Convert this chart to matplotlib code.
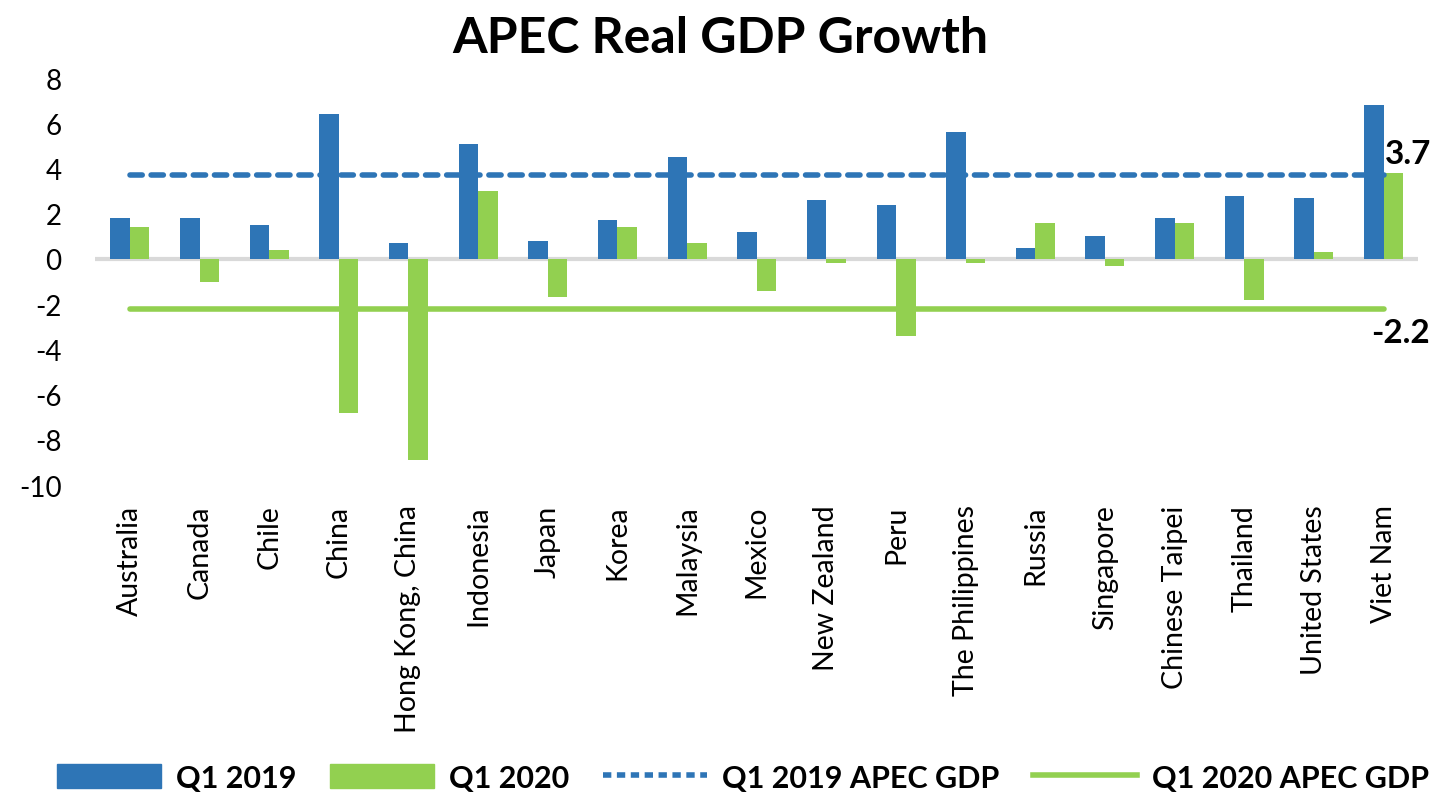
import matplotlib
matplotlib.use("Agg")
import matplotlib.pyplot as plt
import numpy as np
from matplotlib.patches import Patch
from matplotlib.lines import Line2D

categories = ["Australia", "Canada", "Chile", "China", "Hong Kong, China", "Indonesia",
              "Japan", "Korea", "Malaysia", "Mexico", "New Zealand", "Peru",
              "The Philippines", "Russia", "Singapore", "Chinese Taipei", "Thailand",
              "United States", "Viet Nam"]
q1_2019 = [1.8, 1.8, 1.5, 6.4, 0.7, 5.1, 0.8, 1.7, 4.5, 1.2, 2.6, 2.4, 5.6, 0.5, 1.0, 1.8, 2.8, 2.7, 6.8]
q1_2020 = [1.4, -1.0, 0.4, -6.8, -8.9, 3.0, -1.7, 1.4, 0.7, -1.4, -0.2, -3.4, -0.2, 1.6, -0.3, 1.6, -1.8, 0.3, 3.8]
apec_2019 = 3.7
apec_2020 = -2.2
yticks = [8, 6, 4, 2, 0, -2, -4, -6, -8, -10]

BLUE = "#2E75B6"
GREEN = "#92D050"

plt.rcParams['font.family'] = ['Lato', 'DejaVu Sans']

fig = plt.figure(figsize=(14.4, 8.04), dpi=100)
ax = fig.add_axes([0.066, 0.3955, 0.919, 0.5062])

x = np.arange(len(categories))
w = 0.28
ax.bar(x - w / 2, q1_2019, width=w, color=BLUE, zorder=3)
ax.bar(x + w / 2, q1_2020, width=w, color=GREEN, zorder=3)
ax.axhline(0, color="#D9D9D9", lw=3, zorder=2)
ax.plot([x[0], x[-1]], [apec_2019, apec_2019], color=BLUE, lw=4, ls=(0, (2.2, 1.6)),
        dash_capstyle='round', zorder=4)
ax.plot([x[0], x[-1]], [apec_2020, apec_2020], color=GREEN, lw=4, zorder=4,
        solid_capstyle='round')

ax.annotate(f"{apec_2019}", xy=(x[-1], apec_2019), xytext=(1, 5), textcoords="offset points",
            ha="left", va="bottom", fontsize=24, fontweight="bold", annotation_clip=False)
ax.annotate(f"{apec_2020}", xy=(x[-1], apec_2020), xytext=(-9, -7), textcoords="offset points",
            ha="left", va="top", fontsize=24, fontweight="bold", annotation_clip=False)

ax.set_xlim(-0.5, len(categories) - 0.5)
ax.set_ylim(-10, 8)
ax.set_yticks(yticks)
ax.set_yticklabels([str(t) for t in yticks], fontsize=20)
ax.set_xticks(x)
ax.set_xticklabels(categories, rotation=90, fontsize=20.5, va="top", ha="center")
ax.tick_params(axis="y", length=0, pad=24)
ax.tick_params(axis="x", length=0, pad=14)
for s in ax.spines.values():
    s.set_visible(False)

fig.suptitle("APEC Real GDP Growth", fontsize=36, fontweight="bold", y=0.98)

handles = [Patch(color=BLUE), Patch(color=GREEN),
           Line2D([], [], color=BLUE, lw=4, ls=(0, (1.5, 1.0))),
           Line2D([], [], color=GREEN, lw=4)]
labels = ["Q1 2019", "Q1 2020", "Q1 2019 APEC GDP", "Q1 2020 APEC GDP"]
fig.legend(handles, labels, loc="lower center", bbox_to_anchor=(0.516, -0.02), ncol=4,
           frameon=False, prop={"size": 22, "weight": "bold"}, handlelength=3.4,
           handleheight=0.8, columnspacing=1.1, handletextpad=0.5)

fig.savefig("out.png", dpi=100)
